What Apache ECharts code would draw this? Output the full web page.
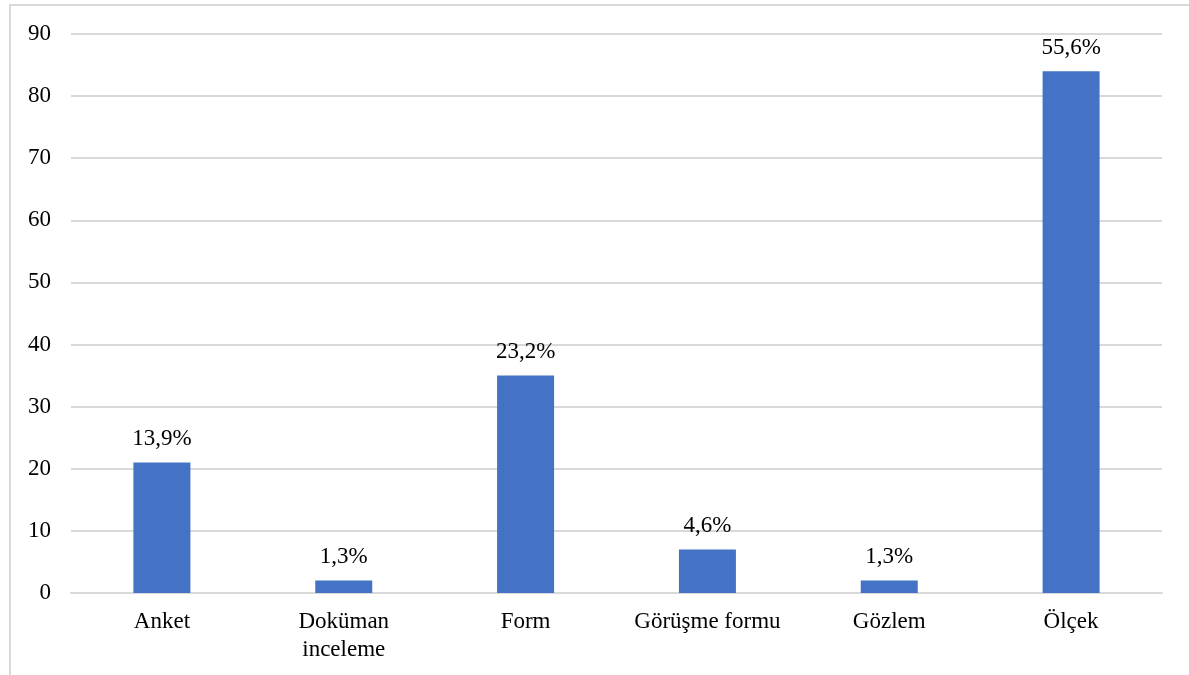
<!DOCTYPE html>
<html>
<head>
<meta charset="utf-8">
<script src="https://cdn.jsdelivr.net/npm/echarts@6/dist/echarts.min.js"></script>
<style>
  html, body { margin: 0; padding: 0; background: #ffffff; }
  #chart { width: 1189px; height: 675px; }
</style>
</head>
<body>
<div id="chart"></div>
<script>
// Veri toplama araçları: frekanslar ve yüzdeler
const categories = ['Anket', 'Doküman\ninceleme', 'Form', 'Görüşme formu', 'Gözlem', 'Ölçek'];
const counts = [21, 2, 35, 7, 2, 84];
const yTicks = { min: 0, max: 90, interval: 10 };

const total = counts.reduce((a, b) => a + b, 0);
const pct = v => (v / total * 100).toFixed(1).replace('.', ',') + '%';

const chart = echarts.init(document.getElementById('chart'), null, { renderer: 'canvas' });
const font = '"Liberation Serif", "Times New Roman", serif';

chart.setOption({
  animation: false,
  backgroundColor: '#ffffff',
  textStyle: { fontFamily: font },
  graphic: [{
    type: 'rect',
    shape: { x: 10, y: 5, width: 1200, height: 700 },
    style: { fill: 'none', stroke: '#d9d9d9', lineWidth: 2 },
    silent: true
  }],
  grid: { left: 71, right: 27, top: 34, bottom: 82, containLabel: false },
  xAxis: {
    type: 'category',
    data: categories,
    axisLine: { show: true, lineStyle: { color: '#d9d9d9', width: 2 } },
    axisTick: { show: false },
    axisLabel: {
      color: '#000000', fontFamily: font, fontSize: 23, margin: 15,
      lineHeight: 28, interval: 0
    }
  },
  yAxis: {
    type: 'value',
    min: yTicks.min, max: yTicks.max, interval: yTicks.interval,
    axisLine: { show: false },
    axisTick: { show: false },
    splitLine: { lineStyle: { color: '#d9d9d9', width: 2 } },
    axisLabel: { color: '#000000', fontFamily: font, fontSize: 23, margin: 20 }
  },
  series: [{
    type: 'bar',
    data: counts,
    barWidth: 57,
    itemStyle: { color: '#4472c4' },
    label: {
      show: true, position: 'top', distance: 12,
      color: '#000000', fontFamily: font, fontSize: 23,
      formatter: p => pct(p.value)
    }
  }]
});
</script>
</body>
</html>
